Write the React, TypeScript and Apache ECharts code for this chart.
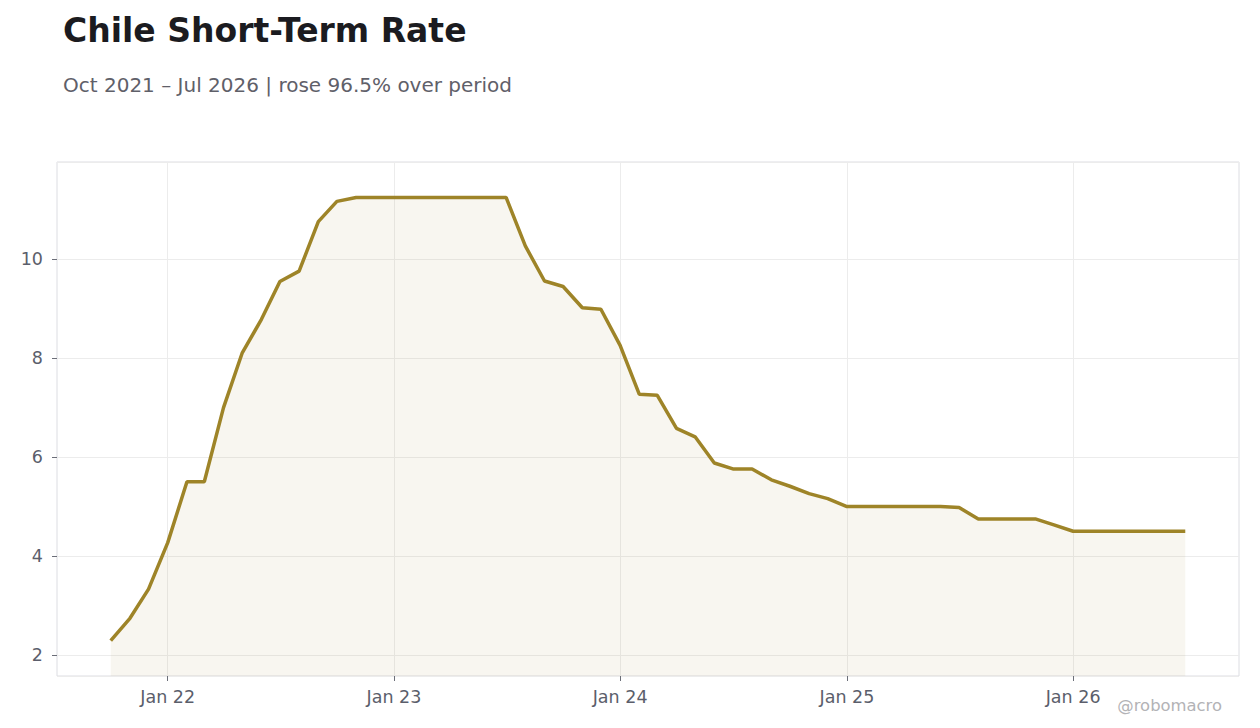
import { useEffect, useRef } from 'react';
import * as echarts from 'echarts';

const months = [
  '2021-10', '2021-11', '2021-12',
  '2022-01', '2022-02', '2022-03', '2022-04', '2022-05', '2022-06',
  '2022-07', '2022-08', '2022-09', '2022-10', '2022-11', '2022-12',
  '2023-01', '2023-02', '2023-03', '2023-04', '2023-05', '2023-06',
  '2023-07', '2023-08', '2023-09', '2023-10', '2023-11', '2023-12',
  '2024-01', '2024-02', '2024-03', '2024-04', '2024-05', '2024-06',
  '2024-07', '2024-08', '2024-09', '2024-10', '2024-11', '2024-12',
  '2025-01', '2025-02', '2025-03', '2025-04', '2025-05', '2025-06',
  '2025-07', '2025-08', '2025-09', '2025-10', '2025-11', '2025-12',
  '2026-01', '2026-02', '2026-03', '2026-04', '2026-05', '2026-06',
  '2026-07',
];

const rates = [
  2.29, 2.74, 3.33,
  4.27, 5.5, 5.5, 7.0, 8.1, 8.78,
  9.55, 9.76, 10.76, 11.17, 11.25, 11.25,
  11.25, 11.25, 11.25, 11.25, 11.25, 11.25,
  11.25, 10.27, 9.56, 9.45, 9.02, 8.99,
  8.26, 7.27, 7.25, 6.58, 6.41, 5.88,
  5.76, 5.76, 5.54, 5.41, 5.26, 5.16,
  5.0, 5.0, 5.0, 5.0, 5.0, 5.0,
  4.98, 4.75, 4.75, 4.75, 4.75, 4.63,
  4.5, 4.5, 4.5, 4.5, 4.5, 4.5,
  4.5,
];

const tickDates = ['2022-01', '2023-01', '2024-01', '2025-01', '2026-01'];

const FONT = '"DejaVu Sans", sans-serif';

function toTime(m: string) {
  const [y, mo] = m.split('-').map(Number);
  return Date.UTC(y, mo - 1, 1);
}

export default function App() {
  const chartRef = useRef<HTMLDivElement>(null);

  useEffect(() => {
    if (!chartRef.current) return;
    const chart = echarts.init(chartRef.current, null, { renderer: 'svg' });

    const times = months.map(toTime);
    const span = times[times.length - 1] - times[0];
    const xMin = times[0] - span * 0.05;
    const xMax = times[times.length - 1] + span * 0.05;
    const xTicks = tickDates.map(toTime);

    const lo = Math.min(...rates);
    const hi = Math.max(...rates);
    const yPad = (hi - lo) * 0.08;

    chart.setOption({
      animation: false,
      textStyle: { fontFamily: FONT },
      title: [
        {
          text: 'Chile Short-Term Rate',
          left: 63,
          top: 14,
          padding: 0,
          textStyle: { fontSize: 33, fontWeight: 'bold', color: '#1b1b20', fontFamily: FONT },
        },
        {
          text: 'Oct 2021 – Jul 2026 | rose 96.5% over period',
          left: 63,
          top: 75,
          padding: 0,
          textStyle: { fontSize: 20, fontWeight: 'normal', color: '#5f6069', fontFamily: FONT },
        },
      ],
      graphic: [
        {
          type: 'text',
          right: 38,
          bottom: 15,
          style: { text: '@robomacro', fill: '#b3b3b6', fontSize: 16.4, fontFamily: FONT },
        },
      ],
      grid: {
        left: 57,
        right: 21,
        top: 162,
        bottom: 52,
        show: true,
        borderColor: '#dcdde2',
        borderWidth: 1,
      },
      xAxis: {
        type: 'value',
        min: xMin,
        max: xMax,
        axisLine: { show: false },
        axisTick: {
          show: true,
          length: 5,
          lineStyle: { color: '#6b6e78' },
          customValues: xTicks,
        },
        axisLabel: {
          color: '#5b5e6b',
          fontSize: 17.5,
          margin: 12,
          fontFamily: FONT,
          customValues: xTicks,
          formatter: (v: number) => 'Jan ' + String(new Date(v).getUTCFullYear()).slice(2),
        },
        splitLine: { show: true, lineStyle: { color: '#ececec', width: 1 } },
      },
      yAxis: {
        type: 'value',
        min: lo - yPad,
        max: hi + yPad,
        splitNumber: 5,
        axisLine: { show: false },
        axisTick: { show: true, length: 5, lineStyle: { color: '#6b6e78' } },
        axisLabel: {
          color: '#5b5e6b',
          fontSize: 17.5,
          margin: 14,
          fontFamily: FONT,
          showMinLabel: false,
          showMaxLabel: false,
        },
        splitLine: { show: true, lineStyle: { color: '#ececec', width: 1 } },
      },
      series: [
        {
          type: 'line',
          data: times.map((t, i) => [t, rates[i]]),
          showSymbol: false,
          lineStyle: { color: '#9e8428', width: 3.5 },
          itemStyle: { color: '#9e8428' },
          areaStyle: { color: 'rgba(158,132,40,0.1)', origin: 'start' },
        },
      ],
    });

    return () => chart.dispose();
  }, []);

  return (
    <div
      ref={chartRef}
      style={{ position: 'absolute', left: 0, top: 0, width: 1260, height: 728, background: '#fff' }}
    />
  );
}
